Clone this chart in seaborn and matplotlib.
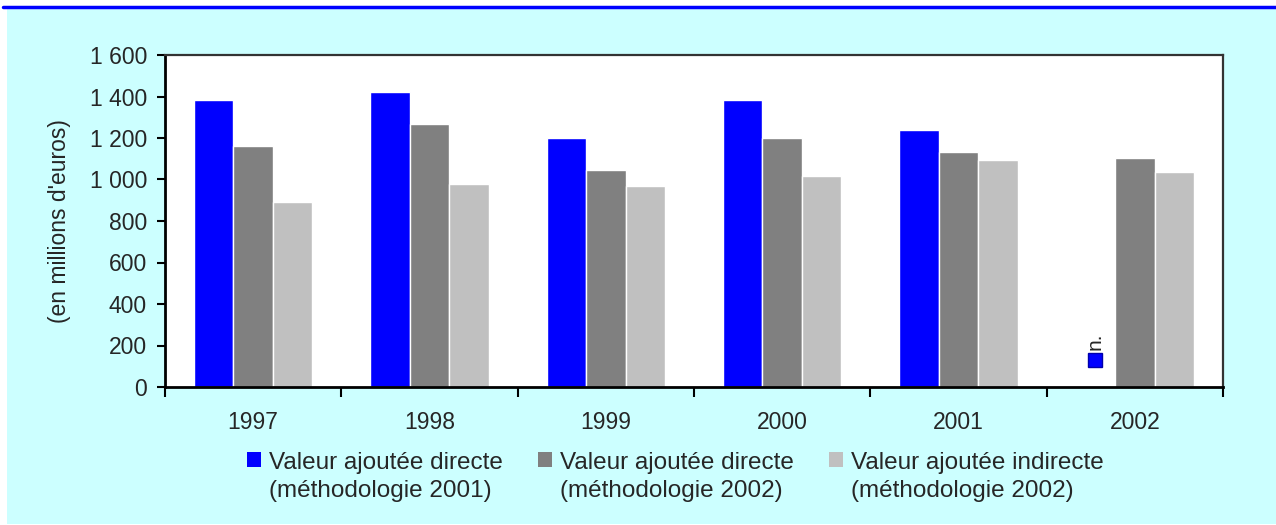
import pandas as pd
import matplotlib.pyplot as plt
import seaborn as sns
from matplotlib.patches import Rectangle, Patch
from matplotlib.lines import Line2D
from matplotlib.legend_handler import HandlerPatch
from matplotlib.ticker import FuncFormatter, FixedLocator
import numpy as np

# Data (millions d'euros)
years = ['1997', '1998', '1999', '2000', '2001', '2002']
direct_2001 = [1383, 1422, 1200, 1383, 1239, np.nan]   # 2002: n.d.
direct_2002 = [1161, 1267, 1046, 1200, 1133, 1104]
indirect_2002 = [891, 978, 969, 1017, 1094, 1036]
series = ['Valeur ajoutée directe\n(méthodologie 2001)',
          'Valeur ajoutée directe\n(méthodologie 2002)',
          'Valeur ajoutée indirecte\n(méthodologie 2002)']
colors = ['#0000FF', '#808080', '#C0C0C0']

df = pd.DataFrame({
    'year': years * 3,
    'value': direct_2001 + direct_2002 + indirect_2002,
    'series': [s for s in series for _ in years],
})

sns.set_style('white')
plt.rcParams['font.family'] = ['Liberation Sans', 'DejaVu Sans']

fig = plt.figure(figsize=(12.76, 5.25), dpi=100)
fig.patch.set_facecolor('white')
# cyan panel and blue top rule
fig.patches.append(Rectangle((7 / 1276, 1 / 525), 1 - 7 / 1276, 1 - 9 / 525,
                             transform=fig.transFigure, facecolor='#CCFFFF',
                             edgecolor='none', zorder=-10))
fig.lines.append(Line2D([3 / 1276, 1], [1 - 7 / 525, 1 - 7 / 525],
                        transform=fig.transFigure, color='#0000FF', lw=2.5))

ax = fig.add_axes([165 / 1276, 1 - 387 / 525, (1223 - 165) / 1276, (387 - 55) / 525])
width = 0.67
sns.barplot(data=df, x='year', y='value', hue='series', hue_order=series,
            palette=colors, width=width, saturation=1, ax=ax, legend=False)

ax.set_facecolor('white')
ax.set_xlim(-0.5, len(years) - 0.5)
ax.set_ylim(0, 1600)
ax.set_yticks(range(0, 1601, 200))
ax.yaxis.set_major_formatter(FuncFormatter(lambda v, p: f'{int(v):,}'.replace(',', ' ')))
ax.tick_params(axis='y', direction='out', length=6, width=1.5, pad=7,
               labelsize=16.5, left=True, color='black')
ax.xaxis.set_minor_locator(FixedLocator(np.arange(-0.5, len(years), 1)))
ax.tick_params(axis='x', which='major', length=0, pad=17, labelsize=16.5)
ax.tick_params(axis='x', which='minor', direction='out', length=7, width=1.5,
               bottom=True, color='black')
ax.set_xlabel('')
ax.set_ylabel("(en millions d'euros)", fontsize=16.5)
ax.yaxis.set_label_coords(-0.089, 0.5)

for side in ['left', 'bottom']:
    ax.spines[side].set_color('black')
    ax.spines[side].set_linewidth(2)
for side in ['top', 'right']:
    ax.spines[side].set_color('#333333')
    ax.spines[side].set_linewidth(1.6)

# n.d. marker for the missing 2002 value (methodologie 2001)
nd_x = len(years) - 1 - width / 3
ax.plot([nd_x], [130], marker='s', markersize=10, color='#0000FF',
        markeredgecolor='#0000AA', clip_on=False)
ax.text(nd_x, 180, 'n.', rotation=90, ha='center', va='bottom', fontsize=15)


# legend squares sit on the first line of each two-line label
def top_square(legend, orig_handle, xdescent, ydescent, width, height, fontsize):
    return Rectangle((-xdescent, -ydescent + 0.72 * fontsize), width, height)


leg_size = 17.5
handles = [Patch(facecolor=c, edgecolor='none') for c in colors]
fig.legend(handles, series, loc='center', bbox_to_anchor=(0.529, 1 - 477 / 525),
           ncol=3, frameon=False, fontsize=leg_size, handlelength=0.6,
           handleheight=0.6, handletextpad=0.3, columnspacing=1.45,
           handler_map={Patch: HandlerPatch(patch_func=top_square)})
for t in fig.legends[0].get_texts():
    t.set_linespacing(1.35)

fig.savefig('out.png', dpi=100)
